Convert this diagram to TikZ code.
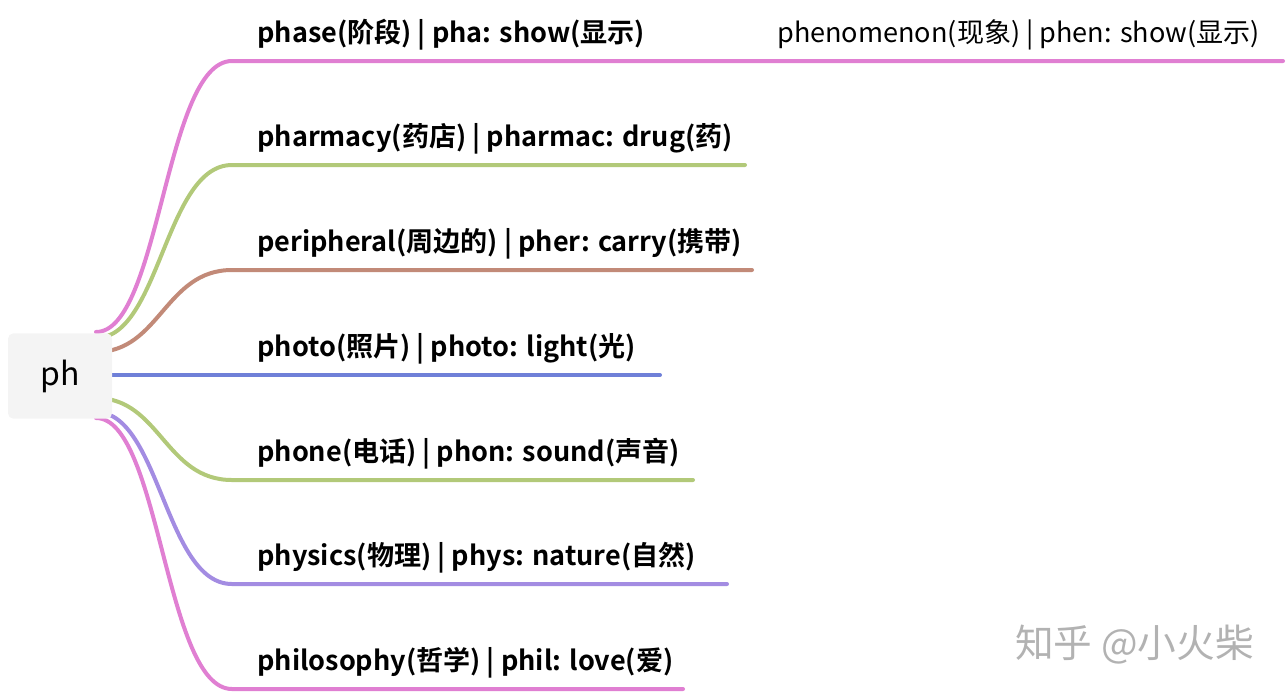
\documentclass[tikz,border=0pt]{standalone}
\usepackage{fontspec}
\setmainfont{Noto Sans CJK SC}[BoldFont={Noto Sans CJK SC Bold}]
\usetikzlibrary{positioning}
\definecolor{pinkbr}{HTML}{E07FD2}
\definecolor{greenbr}{HTML}{B2C979}
\definecolor{brownbr}{HTML}{C28A78}
\definecolor{bluebr}{HTML}{6F80D8}
\definecolor{purplebr}{HTML}{A38CE2}
\definecolor{rootfill}{HTML}{F4F4F4}

\begin{document}
\begin{tikzpicture}[
    x=0.75pt, y=-0.75pt,
    root/.style={rectangle, rounded corners=4pt, fill=rootfill, minimum width=78pt, minimum height=64pt, font=\fontsize{24}{28}\selectfont},
    label/.style={anchor=base west, inner sep=0pt, font=\fontsize{20.3}{24}\selectfont},
    branch/.style={line width=3pt, line cap=round}
]
\useasboundingbox (0,0) rectangle (1288,694);

% Branches: y of line, end x, colour, start y on root, text
\foreach \i/\ly/\ex/\col/\sy/\txt in {
    1/61/1283/pinkbr/332/{phase(阶段) | pha: show(显示)},
    2/165/745/greenbr/338/{pharmacy(药店) | pharmac: drug(药)},
    3/270/752/brownbr/352/{peripheral(周边的) | pher: carry(携带)},
    4/375/660/bluebr/375/{photo(照片) | photo: light(光)},
    5/480/693/greenbr/398/{phone(电话) | phon: sound(声音)},
    6/584/727/purplebr/412/{physics(物理) | phys: nature(自然)},
    7/689/683/pinkbr/418/{philosophy(哲学) | phil: love(爱)}}{
  \coordinate (s\i) at (96,\sy);
  \coordinate (k\i) at (232,\ly);
  \coordinate (e\i) at (\ex,\ly);
  \node (t\i) [label] at (257,\ly-19) {\bfseries\txt};
  \draw[branch, \col] (s\i) .. controls (160,\sy) and (165,\ly) .. (k\i) -- (e\i);
}

% Root
\node (ph) [root] at (60,376) {ph};

% Sub topic
\node (phen) [label] at (777,42) {phenomenon(现象) | phen: show(显示)};

% Watermark
\node (mark) [label, text=black!30, font=\fontsize{29}{32}\selectfont] at (1015,657) {知乎 @小火柴};
\end{tikzpicture}
\end{document}
